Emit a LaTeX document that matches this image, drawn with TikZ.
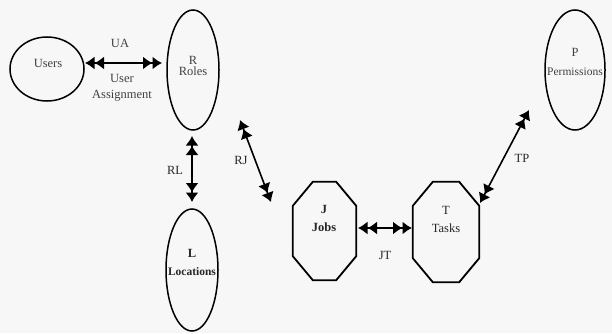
\documentclass[tikz,border=0pt]{standalone}
\usepackage{fontspec}
\setmainfont{Liberation Serif}
\usetikzlibrary{arrows.meta,shapes.geometric}
\begin{document}
\begin{tikzpicture}[x=1pt,y=1pt,
 ent/.style={draw=black, line width=1.5pt, ellipse, inner sep=0pt},
 octbox/.style={draw=none, rectangle, inner sep=0pt},
 octline/.style={draw=black, line width=1.8pt, line join=miter},
 lbl/.style={font=\fontsize{12.5}{14}\selectfont, text=black!75, inner sep=0pt},
 blbl/.style={lbl, font=\fontsize{12.5}{14}\selectfont\bfseries, text=black!85},
 tip/.tip={Latex[length=9.5pt,width=13pt]},
 dbl/.style={line width=1.6pt, {tip[]tip[]}-{tip[]tip[]}}]
\useasboundingbox (0,0) rectangle (612,333);
\fill[black!3] (0,0) rectangle (612,333);
% entities
\node[ent, minimum width=74pt, minimum height=64pt] (U) at (47,264) {};
\node[ent, minimum width=52pt, minimum height=120pt] (R) at (193,263) {};
\node[ent, minimum width=60pt, minimum height=120pt] (P) at (575,263) {};
\node[ent, minimum width=52pt, minimum height=122pt] (L) at (192,63) {};
\node[octbox, minimum width=63pt, minimum height=98pt] (J) at (324.5,102) {};
\node[octbox, minimum width=66pt, minimum height=100pt] (T) at (446,101) {};
\foreach \n in {J,T}{
 \draw[octline] ([xshift=20pt]\n.north west) -- ([xshift=-20pt]\n.north east)
  -- ([yshift=-24pt]\n.north east) -- ([yshift=24pt]\n.south east)
  -- ([xshift=-20pt]\n.south east) -- ([xshift=20pt]\n.south west)
  -- ([yshift=24pt]\n.south west) -- ([yshift=-24pt]\n.north west) -- cycle;
}
% texts
\node[lbl] (Ut) at (48,270) {Users};
\node[lbl] (Rt1) at (193,273) {R};
\node[lbl] (Rt2) at (193,262) {Roles};
\node[lbl] (Pt1) at (575,281) {P};
\node[lbl, font=\fontsize{11.5}{13}\selectfont] (Pt2) at (575,261) {Permissions};
\node[blbl] (Lt1) at (192,80) {L};
\node[blbl, font=\fontsize{11.5}{13}\selectfont\bfseries] (Lt2) at (192,61) {Locations};
\node[blbl] (Jt1) at (324,124) {J};
\node[blbl] (Jt2) at (324,106) {Jobs};
\node[lbl, text=black!85] (Tt1) at (446,123) {T};
\node[lbl, text=black!85] (Tt2) at (446,105) {Tasks};
% connector ends
\coordinate (ua1) at (85,270);  \coordinate (ua2) at (162,270);
\coordinate (rl1) at (192,197); \coordinate (rl2) at (192,131);
\coordinate (rj1) at (240,213); \coordinate (rj2) at (271,131);
\coordinate (jt1) at (358,105); \coordinate (jt2) at (412,105);
\coordinate (tp1) at (480,130); \coordinate (tp2) at (529,223);
\draw[dbl] (ua1) -- (ua2);
\draw[dbl] (rl1) -- (rl2);
\draw[dbl] (rj1) -- (rj2);
\draw[dbl] (jt1) -- (jt2);
\draw[dbl] (tp1) -- (tp2);
% connector labels
\node[lbl] (UAt) at (120,290) {UA};
\node[lbl] (UAt2) at (122,255) {User};
\node[lbl] (UAt3) at (122,237) {Assignment};
\node[lbl, text=black!85] (RLt) at (175,163) {RL};
\node[lbl, text=black!85] (RJt) at (241,173) {RJ};
\node[lbl, text=black!85] (JTt) at (385,78) {JT};
\node[lbl, text=black!85] (TPt) at (522,175) {TP};
\end{tikzpicture}
\end{document}
